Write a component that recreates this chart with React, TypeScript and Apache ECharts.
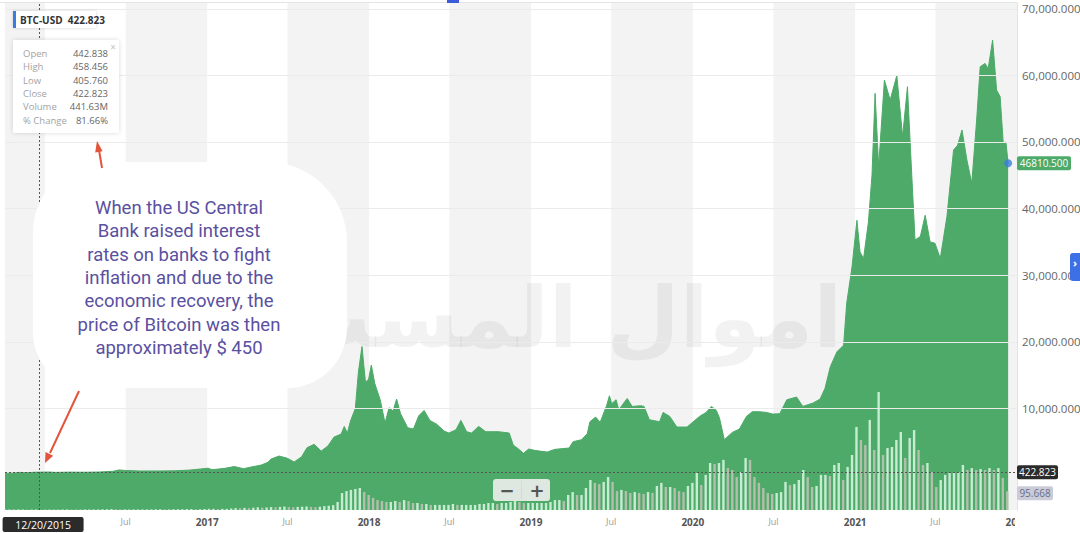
import React, { useEffect, useRef } from 'react';
import * as echarts from 'echarts';

// BTC-USD price
const priceDates = [
  '2015-10-03', '2015-10-25', '2015-11-04', '2015-11-17', '2015-12-09', '2015-12-20', '2016-01-10', '2016-01-24',
  '2016-02-26', '2016-03-31', '2016-05-04', '2016-06-03', '2016-06-16', '2016-07-01', '2016-08-02', '2016-09-16',
  '2016-10-20', '2016-11-23', '2017-01-03', '2017-01-12', '2017-02-10', '2017-03-03', '2017-03-24', '2017-04-03',
  '2017-05-03', '2017-05-18', '2017-05-25', '2017-06-12', '2017-07-01', '2017-07-16', '2017-08-02', '2017-08-14',
  '2017-08-30', '2017-09-15', '2017-09-30', '2017-10-14', '2017-10-30', '2017-11-06', '2017-11-13', '2017-11-20',
  '2017-12-01', '2017-12-08', '2017-12-16', '2017-12-20', '2017-12-24', '2017-12-31', '2018-01-06', '2018-01-14',
  '2018-01-26', '2018-02-06', '2018-02-15', '2018-02-24', '2018-03-04', '2018-03-13', '2018-03-29', '2018-04-11',
  '2018-04-23', '2018-05-05', '2018-05-18', '2018-06-03', '2018-06-19', '2018-06-30', '2018-07-16', '2018-07-27',
  '2018-08-09', '2018-08-20', '2018-09-05', '2018-09-21', '2018-10-20', '2018-11-13', '2018-11-22', '2018-12-06',
  '2018-12-15', '2018-12-27', '2019-01-09', '2019-01-25', '2019-02-07', '2019-02-24', '2019-03-28', '2019-04-06',
  '2019-04-25', '2019-05-08', '2019-05-14', '2019-05-27', '2019-06-06', '2019-06-21', '2019-06-27', '2019-07-02',
  '2019-07-12', '2019-07-18', '2019-08-06', '2019-08-17', '2019-09-06', '2019-09-13', '2019-09-25', '2019-10-18',
  '2019-10-26', '2019-11-10', '2019-11-26', '2019-12-19', '2020-01-16', '2020-01-31', '2020-02-12', '2020-02-23',
  '2020-03-01', '2020-03-12', '2020-03-30', '2020-04-15', '2020-05-01', '2020-05-14', '2020-05-30', '2020-06-15',
  '2020-06-29', '2020-07-15', '2020-07-31', '2020-08-22', '2020-09-05', '2020-09-28', '2020-10-14', '2020-10-25',
  '2020-11-06', '2020-11-21', '2020-12-06', '2020-12-13', '2020-12-25', '2021-01-05', '2021-01-12', '2021-01-20',
  '2021-01-31', '2021-02-08', '2021-02-15', '2021-02-23', '2021-03-08', '2021-03-21', '2021-04-05', '2021-04-18',
  '2021-04-29', '2021-05-05', '2021-05-16', '2021-05-28', '2021-06-08', '2021-06-19', '2021-06-30', '2021-07-12',
  '2021-07-27', '2021-08-11', '2021-08-20', '2021-08-30', '2021-09-10', '2021-09-21', '2021-10-02', '2021-10-10',
  '2021-10-21', '2021-10-28', '2021-11-07', '2021-11-16', '2021-11-24', '2021-12-01', '2021-12-07', '2021-12-12',
];
const priceValues = [
  240, 285, 400, 330, 415, 422.823, 450, 390,
  430, 415, 450, 560, 760, 680, 600, 610,
  630, 740, 1020, 800, 1000, 1270, 950, 1100,
  1500, 1900, 2400, 2850, 2500, 1950, 2750, 4100,
  4600, 3600, 4350, 5700, 6150, 7300, 6300, 8100,
  10000, 15500, 19300, 16500, 13900, 14400, 16500, 13700,
  11300, 7800, 10100, 9600, 11400, 9200, 7100, 6900,
  8900, 9700, 8200, 7600, 6600, 6300, 6800, 8200,
  6500, 6300, 7300, 6500, 6500, 6300, 4500, 3800,
  3250, 3900, 3700, 3550, 3450, 3850, 4050, 5000,
  5300, 6200, 8000, 8700, 7900, 10500, 11900, 10700,
  11300, 9800, 11500, 10300, 10400, 10300, 8300, 8000,
  9400, 8800, 7200, 7200, 8800, 9400, 10300, 9700,
  8600, 5300, 6400, 6900, 8800, 9500, 9500, 9400,
  9150, 9200, 11300, 11700, 10300, 10800, 11400, 13000,
  16250, 18500, 19500, 25800, 31250, 38250, 33500, 32500,
  38000, 45000, 57300, 46300, 59300, 56300, 60000, 50800,
  58300, 50000, 35300, 35800, 39000, 35000, 34800, 32500,
  38800, 48800, 49500, 51800, 47300, 43800, 53300, 61300,
  61800, 61000, 65300, 57800, 56800, 49800, 50000, 46810.5,
];

// volume bars, one every 10 days from volumeStart
const volumeStart = '2015-10-03';
const volumeStepDays = 10;
const volumeValues = [
  2, 2, 3, 3, 3, 2, 2, 3, 2, 2, 2, 2, 2, 3, 3, 2, 2, 2, 3, 3,
  3, 3, 4, 4, 5, 4, 3, 3, 3, 3, 3, 3, 3, 3, 4, 4, 3, 3, 4, 4,
  4, 5, 5, 4, 4, 5, 6, 6, 5, 6, 6,
  8, 10, 9, 11, 10, 12, 14, 12, 13, 15, 14, 16, 18, 15, 14, 16, 17, 18, 16, 15,
  17, 20, 22, 25, 41,
  87, 97, 103, 108, 113, 92, 77, 62, 51, 46,
  41, 41, 46, 41, 51, 46, 36, 36, 31, 31,
  26, 26, 26, 26, 26, 31, 26, 26, 26, 26,
  26, 31, 31, 36, 36, 31, 36, 36, 41, 46,
  41, 36, 36, 36, 36, 36, 36, 41, 51, 51,
  46, 77, 92, 77, 77, 113, 154, 139, 133, 144,
  169, 144, 97, 103, 97, 87, 92, 87, 82, 92,
  87, 123, 139, 118, 118, 113, 97, 92, 123, 139,
  190, 128, 180, 241, 236, 241, 257, 215, 205, 169,
  195, 267, 257, 169, 139, 113, 87, 82, 87, 92,
  144, 128, 133, 154, 205, 169, 118, 123, 180, 180,
  174, 231, 241, 154, 221, 282, 426, 359, 333, 462,
  308, 605, 282, 318, 323, 359, 400, 267, 369, 410,
  308, 231, 241, 195, 118, 154, 180, 190, 190, 195,
  231, 205, 215, 205, 210, 205, 215, 205, 215, 164,
  95.668,
];

const yTicks = [10000, 20000, 30000, 40000, 50000, 60000, 70000];
// 2016-01-01 sits under the crosshair date box, so it is left out
const xTickDates = [
  '2016-07-01', '2017-01-01', '2017-07-01', '2018-01-01', '2018-07-01', '2019-01-01',
  '2019-07-01', '2020-01-01', '2020-07-01', '2021-01-01', '2021-07-01', '2022-01-01',
];
const shadedHalves = [
  ['2015-10-03', '2016-01-01'], ['2016-07-01', '2017-01-01'], ['2017-07-01', '2018-01-01'],
  ['2018-07-01', '2019-01-01'], ['2019-07-01', '2020-01-01'], ['2020-07-01', '2021-01-01'],
  ['2021-07-01', '2022-01-01'],
];

const xMin = '2015-10-03';
const xMax = '2022-01-01';
const crosshairDate = '2015-12-20';
const crosshairLabel = '12/20/2015';
const crosshairPrice = 422.823;

const tooltipLabels = ['Open', 'High', 'Low', 'Close', 'Volume', '% Change'];
const tooltipValues = ['442.838', '458.456', '405.760', '422.823', '441.63M', '81.66%'];

const noteLines = [
  'When the US Central',
  'Bank raised interest',
  'rates on banks to fight',
  'inflation and due to the',
  'economic recovery, the',
  'price of Bitcoin was then',
  'approximately $ 450',
];
// only the part that shows beside the note bubble
const watermark = 'اموال المست';

const GREEN = '#4daa68';
const DAY = 86400000;

// dates are plain UTC days on a value axis
const toTime = (d: string) => Date.parse(d + 'T00:00:00Z');

export default function App() {
  const chartRef = useRef<HTMLDivElement>(null);

  useEffect(() => {
    if (!chartRef.current) return;
    const chart = echarts.init(chartRef.current, null, { renderer: 'svg' });

    const priceData = priceDates.map((d, i) => [toTime(d), priceValues[i]]);
    const t0 = toTime(volumeStart);
    const volumeData = volumeValues.map((v, i) => ({
      value: [t0 + i * volumeStepDays * DAY, v],
      itemStyle: { color: i > 0 && v < volumeValues[i - 1] ? '#b3bfac' : '#c6ecd2' },
    }));
    const lastIdx = priceValues.length - 1;
    const lastPrice = priceValues[lastIdx];
    const lastVolume = volumeValues[volumeValues.length - 1];

    const option = {
      animation: false,
      grid: { left: 5, right: 63, top: 3, bottom: 23, containLabel: false, outerBoundsMode: 'none' },
      xAxis: {
        type: 'value',
        min: toTime(xMin),
        max: toTime(xMax),
        axisLine: { show: false },
        axisTick: { show: false },
        splitLine: { show: false },
        axisLabel: {
          customValues: xTickDates.map(toTime),
          margin: 7,
          hideOverlap: false,
          showMinLabel: true,
          showMaxLabel: true,
          formatter: (v: number) => {
            const d = new Date(v);
            return d.getUTCMonth() === 0 ? `{y|${d.getUTCFullYear()}}` : '{m|Jul}';
          },
          rich: {
            y: { fontSize: 10, fontWeight: 'bold', color: '#555', fontFamily: 'Open Sans' },
            m: { fontSize: 9, color: '#999', fontFamily: 'Open Sans' },
          },
        },
      },
      yAxis: [
        {
          type: 'value',
          position: 'right',
          min: -5255,
          max: 70870,
          axisLine: { show: true, lineStyle: { color: '#e2e2e2' } },
          axisTick: { show: false },
          splitLine: { show: false },
          axisLabel: {
            customValues: yTicks,
            margin: 5,
            color: '#666',
            fontSize: 11.5,
            fontFamily: 'Open Sans',
            formatter: (v: number) =>
              v.toLocaleString('en-US', { minimumFractionDigits: 3, maximumFractionDigits: 3 }),
          },
        },
        { type: 'value', min: 0, max: 2600, show: false },
      ],
      series: [
        {
          type: 'line',
          z: 0,
          silent: true,
          data: [[toTime(xMin), 0]],
          showSymbol: false,
          lineStyle: { opacity: 0 },
          markArea: {
            silent: true,
            itemStyle: { color: '#f3f3f3' },
            data: shadedHalves.map(([a, b]) => [{ xAxis: toTime(a) }, { xAxis: toTime(b) }]),
          },
        },
        {
          type: 'line',
          z: 1,
          silent: true,
          data: [[toTime(xMin), 0]],
          showSymbol: false,
          lineStyle: { opacity: 0 },
          markLine: {
            silent: true,
            symbol: 'none',
            label: { show: false },
            lineStyle: { color: '#ebebeb', type: 'solid', width: 1 },
            data: yTicks.map((v) => ({ yAxis: v })),
          },
        },
        {
          type: 'line',
          z: 2,
          data: priceData,
          showSymbol: false,
          lineStyle: { color: GREEN, width: 1 },
          areaStyle: { color: GREEN, opacity: 1, origin: 'start' },
        },
        {
          type: 'bar',
          z: 3,
          yAxisIndex: 1,
          barWidth: 2.4,
          data: volumeData,
        },
        {
          type: 'line',
          z: 4,
          silent: true,
          data: [[toTime(crosshairDate), crosshairPrice]],
          showSymbol: false,
          lineStyle: { opacity: 0 },
          markLine: {
            silent: true,
            symbol: 'none',
            label: { show: false },
            lineStyle: { color: '#555', type: [2, 2], width: 1 },
            data: [{ xAxis: toTime(crosshairDate) }, { yAxis: crosshairPrice }],
          },
        },
        {
          type: 'scatter',
          z: 5,
          symbolSize: 8,
          itemStyle: { color: '#3b7ddd' },
          data: [[toTime(priceDates[lastIdx]), lastPrice]],
        },
      ],
    };
    chart.setOption(option);

    const yLast = chart.convertToPixel({ yAxisIndex: 0 }, lastPrice) as number;
    const yCross = chart.convertToPixel({ yAxisIndex: 0 }, crosshairPrice) as number;
    const yVol = chart.convertToPixel({ yAxisIndex: 1 }, lastVolume) as number;
    const xCross = chart.convertToPixel({ xAxisIndex: 0 }, toTime(crosshairDate)) as number;

    const font = 'Open Sans';
    const rowH = 13.3;
    const tipRows: any[] = [];
    tooltipLabels.forEach((lab, i) => {
      tipRows.push({
        type: 'text', z: 13, silent: true,
        style: { text: lab, x: 23, y: 53.5 + i * rowH, verticalAlign: 'middle', fill: '#a3a3a3', fontSize: 9.5, fontFamily: font },
      });
      tipRows.push({
        type: 'text', z: 13, silent: true,
        style: { text: tooltipValues[i], x: 108, y: 53.5 + i * rowH, align: 'right', verticalAlign: 'middle', fill: '#666', fontSize: 9.5, fontFamily: font },
      });
    });

    const arrowColor = '#e2553b';
    chart.setOption({
      graphic: [
        // watermark
        {
          type: 'text', z: 1, silent: true,
          style: { text: watermark, x: 842, y: 318, align: 'right', verticalAlign: 'middle', fontSize: 84, fontWeight: 'bold', fontFamily: 'DejaVu Sans', fill: 'rgba(0,0,0,0.05)' },
        },
        // top border + marker
        { type: 'line', z: 6, silent: true, shape: { x1: 0, y1: 2.5, x2: 1017, y2: 2.5 }, style: { stroke: '#e4e4e4', lineWidth: 1 } },
        { type: 'rect', z: 6, silent: true, shape: { x: 447, y: 0, width: 12, height: 3 }, style: { fill: '#3b5bdb' } },
        // crop of the last x label
        { type: 'rect', z: 6, silent: true, shape: { x: 1015, y: 511, width: 65, height: 22 }, style: { fill: '#fff' } },
        // note bubble
        {
          type: 'rect', z: 10, silent: true,
          shape: { x: 33, y: 162, width: 314, height: 226, r: [70, 80, 60, 55] },
          style: { fill: '#ffffff' },
        },
        {
          type: 'text', z: 11, silent: true,
          style: {
            text: noteLines.join('\n'), x: 179, y: 278, align: 'center', verticalAlign: 'middle',
            fontSize: 18.5, lineHeight: 23.3, fontFamily: 'Roboto', fill: '#5a50a0',
          },
        },
        // arrows
        { type: 'line', z: 11, silent: true, shape: { x1: 102, y1: 168, x2: 99, y2: 150 }, style: { stroke: arrowColor, lineWidth: 2 } },
        { type: 'polygon', z: 11, silent: true, shape: { points: [[97, 141], [102.6, 151.2], [95.2, 152.6]] }, style: { fill: arrowColor } },
        { type: 'line', z: 11, silent: true, shape: { x1: 79, y1: 391, x2: 50, y2: 453 }, style: { stroke: arrowColor, lineWidth: 2 } },
        { type: 'polygon', z: 11, silent: true, shape: { points: [[45, 463], [53.2, 455.8], [45.5, 452]] }, style: { fill: arrowColor } },
        // symbol label
        {
          type: 'rect', z: 12, silent: true,
          shape: { x: 13, y: 11, width: 83, height: 17, r: 1 },
          style: { fill: '#fff', shadowBlur: 3, shadowColor: 'rgba(0,0,0,0.18)' },
        },
        { type: 'rect', z: 13, silent: true, shape: { x: 13, y: 11, width: 3, height: 17 }, style: { fill: '#3b7ddd' } },
        {
          type: 'text', z: 13, silent: true,
          style: { text: `BTC-USD  ${crosshairPrice.toFixed(3)}`, x: 20, y: 19.5, verticalAlign: 'middle', fontSize: 10, fontWeight: 'bold', fontFamily: font, fill: '#333' },
        },
        // tooltip box
        {
          type: 'rect', z: 12, silent: true,
          shape: { x: 13, y: 40, width: 106, height: 93, r: 1 },
          style: { fill: '#fff', shadowBlur: 4, shadowColor: 'rgba(0,0,0,0.15)' },
        },
        {
          type: 'text', z: 13, silent: true,
          style: { text: '×', x: 113, y: 47, align: 'center', verticalAlign: 'middle', fontSize: 10, fill: '#c4c4c4', fontFamily: font },
        },
        ...tipRows,
        // zoom buttons
        {
          type: 'rect', z: 12, silent: true,
          shape: { x: 493, y: 479, width: 57, height: 22, r: 3 },
          style: { fill: 'rgba(234,238,234,0.92)' },
        },
        { type: 'line', z: 13, silent: true, shape: { x1: 521.5, y1: 481, x2: 521.5, y2: 499 }, style: { stroke: '#d6dad6', lineWidth: 1 } },
        {
          type: 'text', z: 13, silent: true,
          style: { text: '−', x: 507, y: 490, align: 'center', verticalAlign: 'middle', fontSize: 18, fontWeight: 'bold', fill: '#555', fontFamily: 'DejaVu Sans' },
        },
        {
          type: 'text', z: 13, silent: true,
          style: { text: '+', x: 537, y: 490, align: 'center', verticalAlign: 'middle', fontSize: 18, fontWeight: 'bold', fill: '#555', fontFamily: 'DejaVu Sans' },
        },
        // date label under the crosshair
        {
          type: 'rect', z: 12, silent: true,
          shape: { x: xCross - 37, y: 517, width: 81, height: 15, r: 2 },
          style: { fill: '#2b2b2b' },
        },
        {
          type: 'text', z: 13, silent: true,
          style: { text: crosshairLabel, x: xCross + 3.5, y: 524.5, align: 'center', verticalAlign: 'middle', fontSize: 10.5, fill: '#fff', fontFamily: font },
        },
        // right side labels
        {
          type: 'rect', z: 12, silent: true,
          shape: { x: 1017, y: yLast - 7, width: 54, height: 14, r: 2 },
          style: { fill: GREEN },
        },
        {
          type: 'text', z: 13, silent: true,
          style: { text: lastPrice.toFixed(3), x: 1044, y: yLast, align: 'center', verticalAlign: 'middle', fontSize: 10, fill: '#fff', fontFamily: font },
        },
        {
          type: 'rect', z: 12, silent: true,
          shape: { x: 1017, y: yCross - 7, width: 41, height: 14, r: 2 },
          style: { fill: '#2b2b2b' },
        },
        {
          type: 'text', z: 13, silent: true,
          style: { text: crosshairPrice.toFixed(3), x: 1037.5, y: yCross, align: 'center', verticalAlign: 'middle', fontSize: 10, fill: '#fff', fontFamily: font },
        },
        {
          type: 'rect', z: 12, silent: true,
          shape: { x: 1017, y: yVol - 5, width: 36, height: 14, r: 2 },
          style: { fill: '#caccd9' },
        },
        {
          type: 'text', z: 13, silent: true,
          style: { text: lastVolume.toFixed(3), x: 1035, y: yVol + 2, align: 'center', verticalAlign: 'middle', fontSize: 10, fill: '#6a6f86', fontFamily: font },
        },
        // side tab
        {
          type: 'rect', z: 12, silent: true,
          shape: { x: 1070, y: 253, width: 10, height: 28, r: [3, 0, 0, 3] },
          style: { fill: '#3d6fe6' },
        },
        {
          type: 'text', z: 13, silent: true,
          style: { text: '›', x: 1075, y: 262, align: 'center', verticalAlign: 'middle', fontSize: 11, fontWeight: 'bold', fill: '#fff', fontFamily: font },
        },
      ],
    });

    return () => {
      chart.dispose();
    };
  }, []);

  return (
    <div
      ref={chartRef}
      style={{ position: 'fixed', left: 0, top: 0, width: 1080, height: 533, background: '#fff' }}
    />
  );
}
